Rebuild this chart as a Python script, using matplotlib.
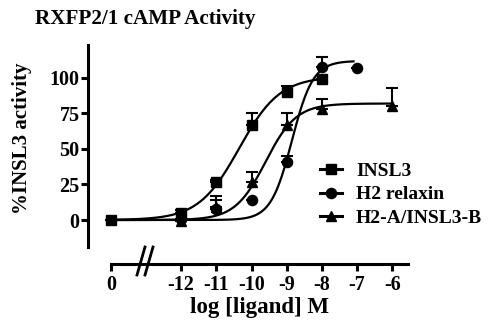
import numpy as np
import matplotlib
matplotlib.use("Agg")
import matplotlib.pyplot as plt
from matplotlib.lines import Line2D

plt.rcParams['font.family'] = ['Liberation Serif', 'DejaVu Serif']
plt.rcParams['font.weight'] = 'bold'

# ---- data (x = log[ligand] M; the "0" point is drawn at the break position -14) ----
zero_pos = -14
insl3_x = [zero_pos, -12, -11, -10, -9, -8]
insl3_y = [0, 5, 27, 67, 90, 99]
insl3_err = [0, 2, 1, 8, 4, 0]

h2_x = [-12, -11, -10, -9, -8, -7]
h2_y = [1, 8, 14, 41, 108, 107]
h2_err = [0, 9, 0, 4, 7, 0]

chim_x = [-12, -11, -10, -9, -8, -6]
chim_y = [-1, 9, 27, 67, 78, 80]
chim_err = [0, 5, 7, 8, 7, 13]

# fitted sigmoid parameters (bottom, top, logEC50, hill, x end)
insl3_fit = (0, 101, -10.35, 0.75, -8)
h2_fit = (0, 112, -8.85, 1.45, -7.1)
chim_fit = (0, 82, -9.6, 1.0, -6)

xticks = [zero_pos, -12, -11, -10, -9, -8, -7, -6]
xticklabels = ['0', '-12', '-11', '-10', '-9', '-8', '-7', '-6']
yticks = [0, 25, 50, 75, 100]

W, H = 490, 326
fig = plt.figure(figsize=(W / 100, H / 100), dpi=100)
ax = fig.add_axes([88 / W, (H - 247) / H, (408 - 88) / W, (247 - 45) / H])
ax.patch.set_alpha(0)

def sig(x, p):
    b, t, ec, h, _ = p
    return b + (t - b) / (1 + 10 ** ((ec - x) * h))

lw_curve = 1.6
for p in (insl3_fit, h2_fit, chim_fit):
    xs = np.linspace(zero_pos, p[4], 400)
    ax.plot(xs, sig(xs, p), color='black', lw=lw_curve, zorder=2)

ms = 7.3
ebkw = dict(fmt='none', ecolor='black', elinewidth=1.5, capsize=4.5, capthick=1.5, zorder=3)
for x, y, e in ((chim_x, chim_y, chim_err), (insl3_x, insl3_y, insl3_err), (h2_x, h2_y, h2_err)):
    ax.errorbar(x, y, yerr=[np.zeros(len(e)), e], **ebkw)

ax.plot(chim_x, chim_y, '^', color='black', ms=ms + 0.5, zorder=4)
ax.plot(insl3_x, insl3_y, 's', color='black', ms=ms, zorder=4)
ax.plot(h2_x, h2_y, 'o', color='black', ms=ms, zorder=5)

ax.set_xlim(-14.65, -5.55)
ax.set_ylim(-19, 123.2)

for s in ('top', 'right'):
    ax.spines[s].set_visible(False)
ax.spines['left'].set_linewidth(2.2)
ax.spines['bottom'].set_linewidth(2.2)
ax.spines['bottom'].set_position(('outward', 12))
ax.spines['bottom'].set_bounds(zero_pos, -5.55)

ax.set_xticks(xticks)
ax.set_xticklabels(xticklabels)
ax.set_yticks(yticks)
ax.tick_params(axis='both', width=2.2, length=5, labelsize=14.5)
ax.tick_params(axis='y', pad=1)
ax.tick_params(axis='x', pad=3)
for lab in ax.get_xticklabels() + ax.get_yticklabels():
    lab.set_fontweight('bold')

# axis break marks
for dx in (0, 8):
    fig.add_artist(Line2D([(137 + dx) / W, (145 + dx) / W], [(H - 275) / H, (H - 247) / H],
                          color='black', lw=2.0))

# legend
handles = [
    Line2D([], [], color='black', marker='s', ms=ms, lw=2.2),
    Line2D([], [], color='black', marker='o', ms=ms, lw=2.2),
    Line2D([], [], color='black', marker='^', ms=ms + 0.5, lw=2.2),
]
labels = ['INSL3', 'H2 relaxin', 'H2-A/INSL3-B']
fig.legend(handles, labels, loc='upper left', bbox_to_anchor=(320 / W, 1 - 162 / H),
           frameon=False, handlelength=1.15, handletextpad=0.7, labelspacing=0.32,
           prop={'family': 'Liberation Serif', 'weight': 'bold', 'size': 14},
           borderpad=0, borderaxespad=0)

fig.text(35 / W, 1 - 24 / H, 'RXFP2/1 cAMP Activity', fontsize=15.2, fontweight='bold',
         ha='left', va='baseline')
fig.text(22 / W, 1 - 138 / H, '%INSL3 activity', fontsize=15, fontweight='bold',
         rotation=90, ha='center', va='center')
fig.text(260 / W, 1 - 307 / H, 'log [ligand] M', fontsize=16.5, fontweight='bold',
         ha='center', va='center')

fig.savefig('out.png', dpi=100)
